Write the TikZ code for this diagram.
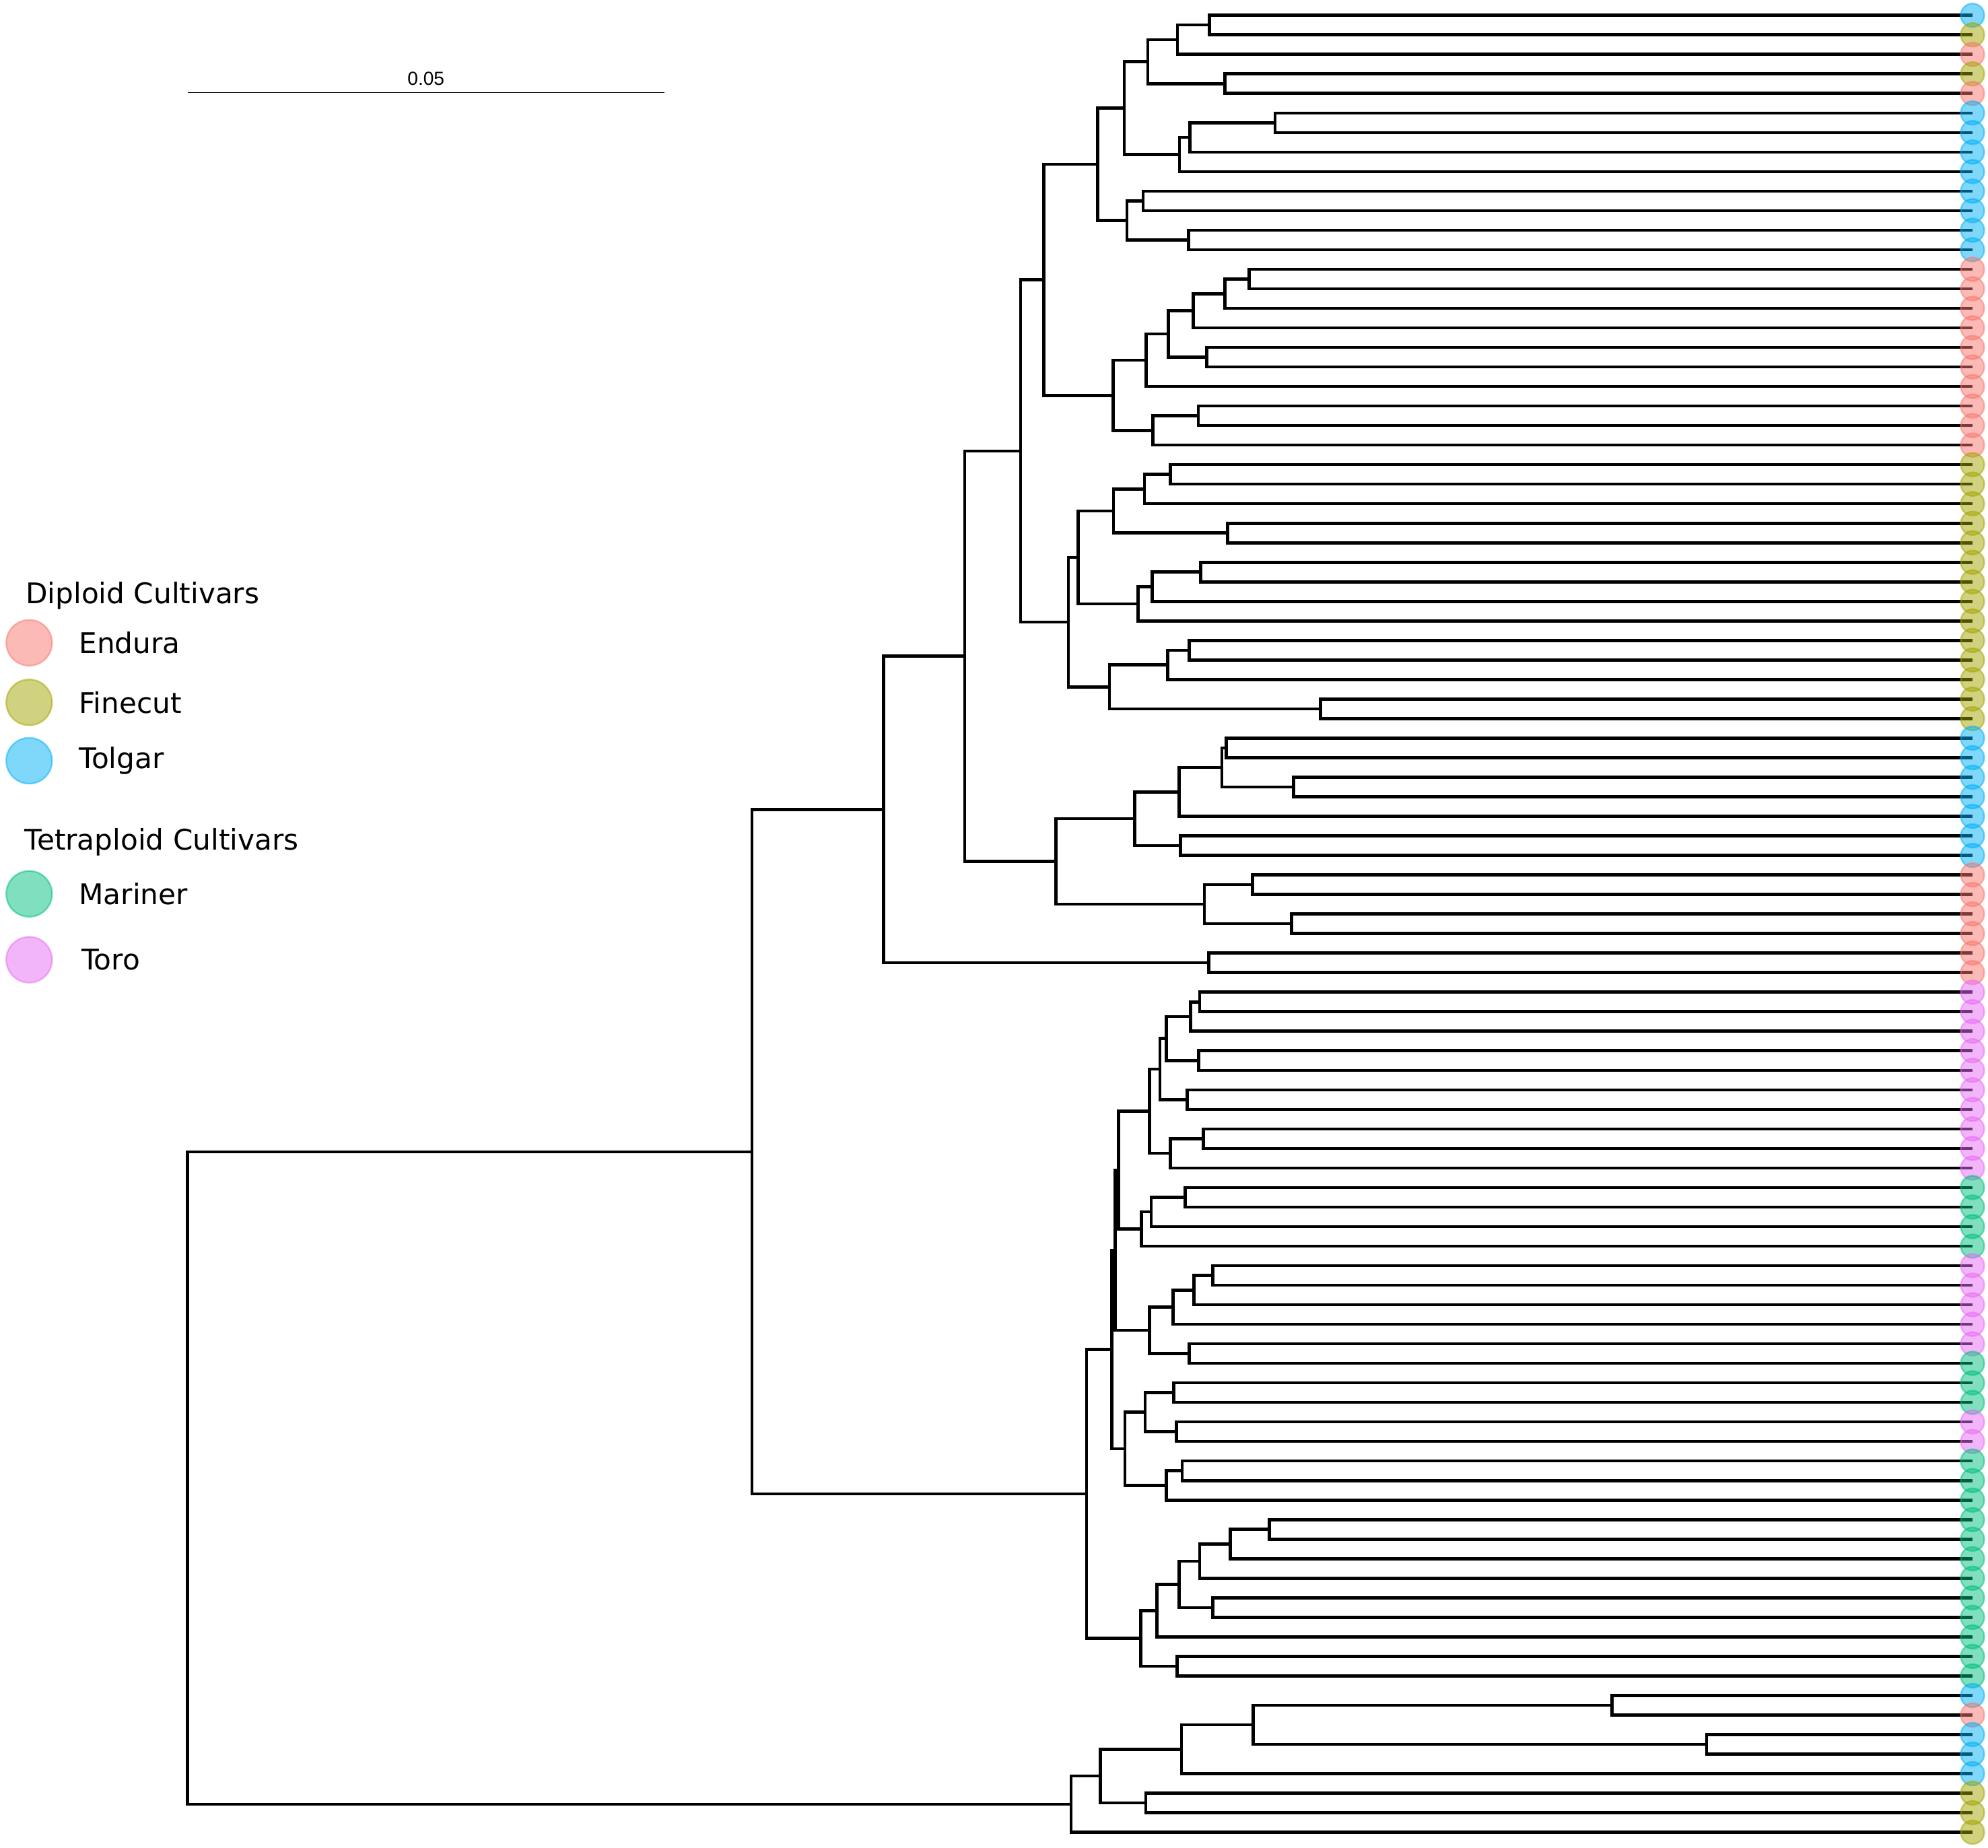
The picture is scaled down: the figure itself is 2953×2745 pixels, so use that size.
\documentclass[tikz,border=0pt]{standalone}
\usepackage{fontspec}
\setmainfont{DejaVu Sans}
\newfontfamily\barfont{Liberation Sans}
\usepackage{xcolor}
\definecolor{endura}{HTML}{F8766D}
\definecolor{finecut}{HTML}{A3A500}
\definecolor{tolgar}{HTML}{00B0F6}
\definecolor{mariner}{HTML}{00BF7D}
\definecolor{toro}{HTML}{E76BF3}
\usepackage{tikz}
\usetikzlibrary{calc}
\tikzset{
  branch/.style={line width=1.3pt, line join=miter},
  tipE/.style={draw=endura, fill=endura, opacity=0.5, line width=0.7pt},
  tipF/.style={draw=finecut, fill=finecut, opacity=0.5, line width=0.7pt},
  tipT/.style={draw=tolgar, fill=tolgar, opacity=0.5, line width=0.7pt},
  tipM/.style={draw=mariner, fill=mariner, opacity=0.5, line width=0.7pt},
  tipR/.style={draw=toro, fill=toro, opacity=0.5, line width=0.7pt},
  legtitle/.style={anchor=west, inner sep=0pt, font=\fontsize{12}{14}\selectfont},
  leglabel/.style={anchor=west, inner sep=0pt, font=\fontsize{12}{14}\selectfont}
}
% join two children at the given x, half way between them
\newcommand{\cladejoin}[4]{%
  \coordinate (m-#1) at ($(#3)!0.5!(#4)$);
  \coordinate (#1) at (#2,0 |- m-#1);
  \draw[branch] (#3) -| (#1) |- (#4);
}

\begin{document}
\begin{tikzpicture}[x=0.01cm,y=-0.01cm]
\useasboundingbox (0,0) rectangle (2953,2745);

% tips
\foreach \k in {1,...,94}
  \coordinate (L\k) at (2930,{22.7+(\k-1)*29.02});

% top group
\cladejoin{a1-2}{1796.4}{L1}{L2}
\cladejoin{a1-3}{1748.8}{a1-2}{L3}
\cladejoin{a4-5}{1819.2}{L4}{L5}
\cladejoin{a1-5}{1705.2}{a1-3}{a4-5}
\cladejoin{a6-7}{1893.9}{L6}{L7}
\cladejoin{a6-8}{1767.4}{a6-7}{L8}
\cladejoin{a6-9}{1752.1}{a6-8}{L9}
\cladejoin{a1-9}{1670.0}{a1-5}{a6-9}
\cladejoin{a10-11}{1698.2}{L10}{L11}
\cladejoin{a12-13}{1765.3}{L12}{L13}
\cladejoin{a10-13}{1674.1}{a10-11}{a12-13}
\cladejoin{a1-13}{1630.6}{a1-9}{a10-13}

\cladejoin{b14-15}{1855.3}{L14}{L15}
\cladejoin{b14-16}{1819.2}{b14-15}{L16}
\cladejoin{b14-17}{1772.4}{b14-16}{L17}
\cladejoin{b18-19}{1792.3}{L18}{L19}
\cladejoin{b14-19}{1735.5}{b14-17}{b18-19}
\cladejoin{b14-20}{1702.3}{b14-19}{L20}
\cladejoin{b21-22}{1779.9}{L21}{L22}
\cladejoin{b21-23}{1712.3}{b21-22}{L23}
\cladejoin{b14-23}{1653.4}{b14-20}{b21-23}
\cladejoin{nB}{1550.6}{a1-13}{b14-23}

\cladejoin{c24-25}{1738.4}{L24}{L25}
\cladejoin{c24-26}{1700.2}{c24-25}{L26}
\cladejoin{c27-28}{1823.4}{L27}{L28}
\cladejoin{c24-28}{1654.2}{c24-26}{c27-28}
\cladejoin{c29-30}{1783.2}{L29}{L30}
\cladejoin{c29-31}{1711.4}{c29-30}{L31}
\cladejoin{c29-32}{1690.7}{c29-31}{L32}
\cladejoin{c24-32}{1601.6}{c24-28}{c29-32}
\cladejoin{c33-34}{1766.6}{L33}{L34}
\cladejoin{c33-35}{1734.2}{c33-34}{L35}
\cladejoin{c36-37}{1961.4}{L36}{L37}
\cladejoin{c33-37}{1648.0}{c33-35}{c36-37}
\cladejoin{nC}{1587.1}{c24-32}{c33-37}
\cladejoin{nA}{1515.8}{nB}{nC}

\cladejoin{d38-39}{1821.3}{L38}{L39}
\cladejoin{d40-41}{1921.6}{L40}{L41}
\cladejoin{d38-41}{1815.1}{d38-39}{d40-41}
\cladejoin{d38-42}{1751.7}{d38-41}{L42}
\cladejoin{d43-44}{1753.7}{L43}{L44}
\cladejoin{d38-44}{1685.3}{d38-42}{d43-44}
\cladejoin{d45-46}{1860.7}{L45}{L46}
\cladejoin{d47-48}{1918.7}{L47}{L48}
\cladejoin{d45-48}{1789.0}{d45-46}{d47-48}
\cladejoin{nE}{1568.4}{d38-44}{d45-48}
\cladejoin{nD}{1433.2}{nA}{nE}
\cladejoin{e49-50}{1795.6}{L49}{L50}
\cladejoin{nF}{1312.7}{nD}{e49-50}

% tetraploid group
\cladejoin{f51-52}{1781.9}{L51}{L52}
\cladejoin{f51-53}{1768.2}{f51-52}{L53}
\cladejoin{f54-55}{1780.7}{L54}{L55}
\cladejoin{f51-55}{1732.2}{f51-53}{f54-55}
\cladejoin{f56-57}{1763.3}{L56}{L57}
\cladejoin{f51-57}{1723.1}{f51-55}{f56-57}
\cladejoin{f58-59}{1787.3}{L58}{L59}
\cladejoin{f58-60}{1738.4}{f58-59}{L60}
\cladejoin{f51-60}{1707.3}{f51-57}{f58-60}
\cladejoin{f61-62}{1760.4}{L61}{L62}
\cladejoin{f61-63}{1710.2}{f61-62}{L63}
\cladejoin{f61-64}{1695.7}{f61-63}{L64}
\cladejoin{f51-64}{1661.7}{f51-60}{f61-64}
\cladejoin{f65-66}{1801.4}{L65}{L66}
\cladejoin{f65-67}{1773.6}{f65-66}{L67}
\cladejoin{f65-68}{1742.5}{f65-67}{L68}
\cladejoin{f69-70}{1766.6}{L69}{L70}
\cladejoin{f65-70}{1707.3}{f65-68}{f69-70}
\cladejoin{nG}{1656.7}{f51-64}{f65-70}
\cladejoin{g71-72}{1743.4}{L71}{L72}
\cladejoin{g73-74}{1747.5}{L73}{L74}
\cladejoin{g71-74}{1701.1}{g71-72}{g73-74}
\cladejoin{g75-76}{1755.8}{L75}{L76}
\cladejoin{g75-77}{1732.2}{g75-76}{L77}
\cladejoin{g71-77}{1671.2}{g71-74}{g75-77}
\cladejoin{nH}{1651.3}{nG}{g71-77}
\cladejoin{h78-79}{1885.6}{L78}{L79}
\cladejoin{h78-80}{1827.5}{h78-79}{L80}
\cladejoin{h78-81}{1781.9}{h78-80}{L81}
\cladejoin{h82-83}{1801.4}{L82}{L83}
\cladejoin{h78-83}{1751.7}{h78-81}{h82-83}
\cladejoin{h78-84}{1718.5}{h78-83}{L84}
\cladejoin{h85-86}{1748.4}{L85}{L86}
\cladejoin{h78-86}{1694.6}{h78-84}{h85-86}
\cladejoin{nI}{1614.0}{nH}{h78-86}
\cladejoin{nJ}{1116.8}{nF}{nI}

% bottom group
\cladejoin{k87-88}{2394.3}{L87}{L88}
\cladejoin{k89-90}{2535.1}{L89}{L90}
\cladejoin{k87-90}{1861.4}{k87-88}{k89-90}
\cladejoin{k87-91}{1754.8}{k87-90}{L91}
\cladejoin{k92-93}{1702.0}{L92}{L93}
\cladejoin{k87-93}{1634.4}{k87-91}{k92-93}
\cladejoin{nK}{1590.8}{k87-93}{L94}
\cladejoin{root}{278.7}{nJ}{nK}

% tip points
\foreach \c [count=\k] in {T,F,E,F,E,T,T,T,T,T,T,T,T,
    E,E,E,E,E,E,E,E,E,E,
    F,F,F,F,F,F,F,F,F,F,F,F,F,F,
    T,T,T,T,T,T,T,
    E,E,E,E,E,E,
    R,R,R,R,R,R,R,R,R,R,
    M,M,M,M,
    R,R,R,R,R,
    M,M,M,
    R,R,
    M,M,M,M,M,M,M,M,M,M,M,M,
    T,E,T,T,T,F,F,F}
  \draw[tip\c] (L\k) circle (0.175cm);

% scale bar
\coordinate (bar-l) at (278.7,137.5);
\coordinate (bar-r) at (986.8,137.5);
\draw[line width=0.45pt] (bar-l) -- (bar-r);
\node[font=\barfont\fontsize{8}{9}\selectfont, anchor=south, inner sep=0pt] (bar-lab) at ($(bar-l)!0.5!(bar-r)+(0,-10)$) {0.05};

% legend
\node[legtitle] (dip) at (37.7,885) {Diploid Cultivars};
\draw[tipE] (43.3,954.8) circle (0.34cm);
\node[leglabel] (endura) at (116.8,954.8) {Endura};
\draw[tipF] (43.3,1043.3) circle (0.34cm);
\node[leglabel] (finecut) at (116.8,1043.3) {Finecut};
\draw[tipT] (43.3,1130) circle (0.34cm);
\node[leglabel] (tolgar) at (116.8,1130) {Tolgar};
\node[legtitle] (tet) at (35.8,1250.5) {Tetraploid Cultivars};
\draw[tipM] (43.3,1327.7) circle (0.34cm);
\node[leglabel] (mariner) at (116.8,1327.7) {Mariner};
\draw[tipR] (43.3,1425.6) circle (0.34cm);
\node[leglabel] (toro) at (120.5,1425.6) {Toro};

\end{tikzpicture}
\end{document}
